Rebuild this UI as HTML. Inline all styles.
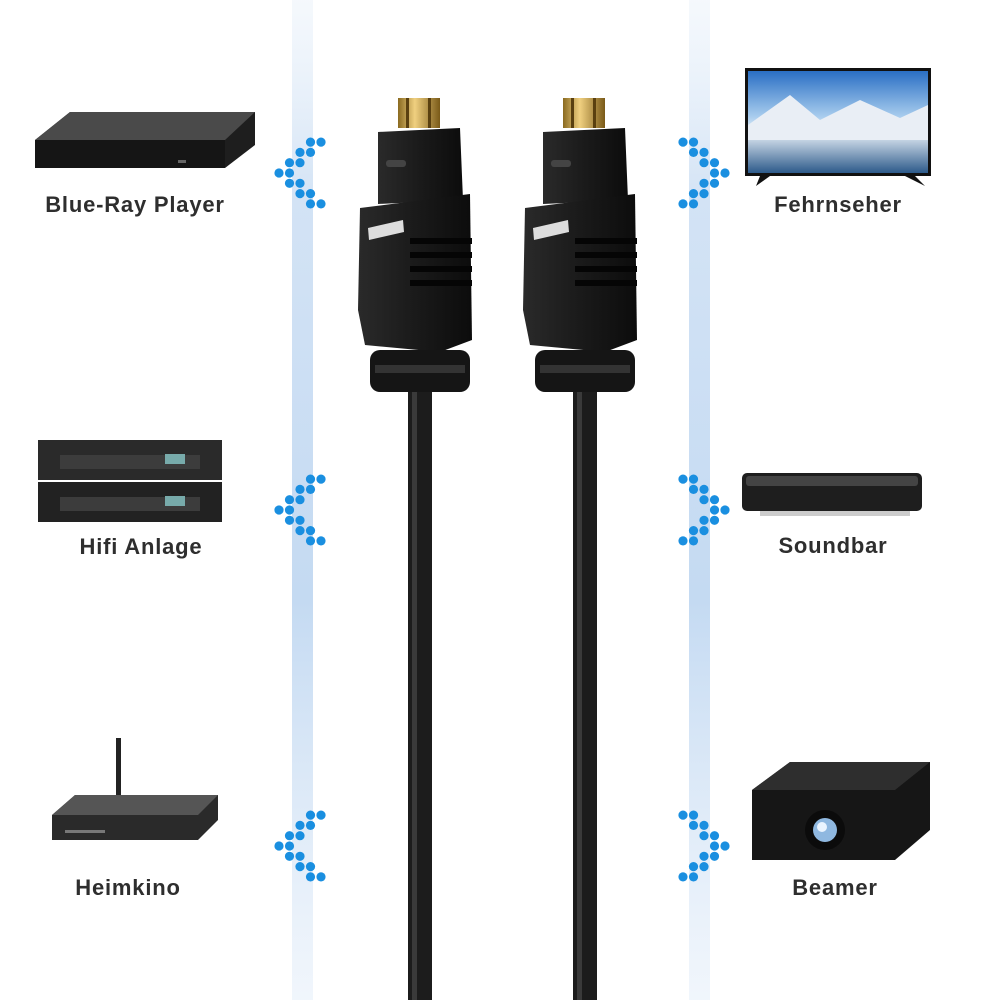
<!DOCTYPE html>
<html><head><meta charset="utf-8"><style>
html,body{margin:0;padding:0;background:#fff}
.lbl{font-family:"Liberation Sans",sans-serif;font-weight:bold;font-size:22px;letter-spacing:0.8px;fill:#2e2e2e}
</style></head><body>
<svg id="s" width="1000" height="1000" viewBox="0 0 1000 1000" xmlns="http://www.w3.org/2000/svg">
<defs>
<linearGradient id="bar" x1="0" y1="0" x2="0" y2="1">
<stop offset="0" stop-color="#e6eff9" stop-opacity="0.4"/>
<stop offset="0.2" stop-color="#d3e3f5"/>
<stop offset="0.6" stop-color="#c4daf2"/>
<stop offset="1" stop-color="#dbe8f7" stop-opacity="0.4"/>
</linearGradient>
<linearGradient id="body" x1="0" y1="0" x2="1" y2="0">
<stop offset="0" stop-color="#2a2a2a"/><stop offset="0.5" stop-color="#1a1a1a"/><stop offset="1" stop-color="#0c0c0c"/>
</linearGradient>
<linearGradient id="gold" x1="0" y1="0" x2="1" y2="0">
<stop offset="0" stop-color="#8a6a20"/><stop offset="0.4" stop-color="#f0d080"/><stop offset="1" stop-color="#7a5a18"/>
</linearGradient>
<linearGradient id="tv" x1="0" y1="0" x2="0" y2="1">
<stop offset="0" stop-color="#2a6fc4"/><stop offset="0.45" stop-color="#a9cdee"/><stop offset="0.6" stop-color="#e8f0f8"/><stop offset="1" stop-color="#2d5a8a"/>
</linearGradient>
<g id="conn">
<rect x="398" y="98" width="42" height="30" fill="url(#gold)"/>
<rect x="406" y="98" width="3" height="30" fill="#5a4010"/><rect x="428" y="98" width="3" height="30" fill="#5a4010"/>
<path d="M378 132 L460 128 L463 200 L378 204 Z" fill="url(#body)"/>
<rect x="386" y="160" width="20" height="7" rx="3" fill="#444"/>
<path d="M360 208 L470 194 L472 340 L440 352 L365 345 L358 310 Z" fill="url(#body)"/>
<path d="M368 228 L403 220 L404 232 L369 240 Z" fill="#ddd"/>
<rect x="410" y="238" width="62" height="6" fill="#050505"/>
<rect x="410" y="252" width="62" height="6" fill="#050505"/>
<rect x="410" y="266" width="62" height="6" fill="#050505"/>
<rect x="410" y="280" width="62" height="6" fill="#050505"/>
<rect x="370" y="350" width="100" height="42" rx="10" fill="#151515"/>
<rect x="375" y="365" width="90" height="8" fill="#333"/>
<rect x="408" y="392" width="24" height="608" fill="#1c1c1c"/>
<rect x="412" y="392" width="5" height="608" fill="#3a3a3a"/>
</g>
</defs>
<rect x="292" y="0" width="21" height="1000" fill="url(#bar)"/>
<rect x="689" y="0" width="21" height="1000" fill="url(#bar)"/>
<use href="#conn"/>
<use href="#conn" x="165"/>
<g id="dots"></g>

<path d="M35 140 L70 112 L255 112 L255 145 L225 168 L35 168 Z" fill="#1e1e1e"/>
<path d="M35 140 L70 112 L255 112 L225 140 Z" fill="#4a4a4a"/>
<rect x="35" y="140" width="190" height="28" fill="#151515"/>
<rect x="178" y="160" width="8" height="3" fill="#666"/>
<text class="lbl" x="135" y="212" text-anchor="middle">Blue-Ray Player</text>

<rect x="745" y="68" width="186" height="108" fill="#111"/>
<rect x="748" y="71" width="180" height="102" fill="url(#tv)"/>
<path d="M748 125 L790 95 L820 120 L860 100 L900 118 L928 105 L928 140 L748 140 Z" fill="#e9eef5"/>
<path d="M760 176 L770 176 L756 186 Z M905 176 L915 176 L925 186 Z" fill="#111"/>
<text class="lbl" x="838" y="212" text-anchor="middle">Fehrnseher</text>

<rect x="38" y="440" width="184" height="40" fill="#2a2a2a"/>
<rect x="38" y="482" width="184" height="40" fill="#222"/>
<rect x="60" y="455" width="140" height="14" fill="#3c3c3c"/>
<rect x="60" y="497" width="140" height="14" fill="#3c3c3c"/>
<rect x="165" y="454" width="20" height="10" fill="#7aa"/><rect x="165" y="496" width="20" height="10" fill="#7aa"/>
<text class="lbl" x="141" y="554" text-anchor="middle">Hifi Anlage</text>

<rect x="742" y="473" width="180" height="38" rx="5" fill="#1e1e1e"/>
<rect x="746" y="476" width="172" height="10" rx="3" fill="#444"/>
<rect x="760" y="511" width="150" height="5" fill="#ccc"/>
<text class="lbl" x="833" y="553" text-anchor="middle">Soundbar</text>

<rect x="116" y="738" width="5" height="60" fill="#222"/>
<path d="M52 815 L75 795 L218 795 L218 820 L198 840 L52 840 Z" fill="#2a2a2a"/>
<path d="M52 815 L75 795 L218 795 L198 815 Z" fill="#555"/>
<rect x="65" y="830" width="40" height="3" fill="#777"/>
<text class="lbl" x="128" y="895" text-anchor="middle">Heimkino</text>

<path d="M752 790 L790 762 L930 762 L930 830 L895 860 L752 860 Z" fill="#161616"/>
<path d="M752 790 L790 762 L930 762 L895 790 Z" fill="#2e2e2e"/>
<circle cx="825" cy="830" r="20" fill="#0b0b0b"/>
<circle cx="825" cy="830" r="12" fill="#8fb8e0"/>
<circle cx="822" cy="827" r="5" fill="#eaf4ff"/>
<text class="lbl" x="835" y="895" text-anchor="middle">Beamer</text>
</svg>
<script>
var g=document.getElementById('dots'),h='';
function left(cy){var off=[3,2,1,0,1,2,3];for(var i=0;i<7;i++){var y=cy+(i-3)*10.3,x=279+off[i]*10.5;h+='<circle cx="'+x+'" cy="'+y+'" r="4.6" fill="#1a8fe0"/><circle cx="'+(x+10.5)+'" cy="'+y+'" r="4.6" fill="#1a8fe0"/>';}}
function right(cy){var off=[3,2,1,0,1,2,3];for(var i=0;i<7;i++){var y=cy+(i-3)*10.3,x=725-off[i]*10.5;h+='<circle cx="'+x+'" cy="'+y+'" r="4.6" fill="#1a8fe0"/><circle cx="'+(x-10.5)+'" cy="'+y+'" r="4.6" fill="#1a8fe0"/>';}}
left(173);left(510);left(846);right(173);right(510);right(846);
g.innerHTML=h;
</script>
</body></html>
